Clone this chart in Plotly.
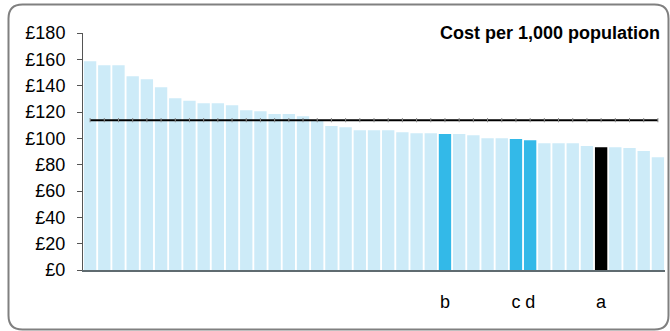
"""Cost per 1,000 population bar chart."""

import plotly.graph_objects as go

VALUES = [
    158.6, 155.5, 155.5, 147.2, 144.9, 138.8, 130.5, 128.5, 126.7, 126.7,
    125.2, 121.4, 120.6, 118.4, 118.4, 116.8, 113.6, 109.3, 108.5, 106.2,
    106.2, 106.2, 104.7, 103.9, 103.9, 103.2, 103.2, 102.4, 100.1, 100.1,
    99.4, 98.6, 96.3, 96.3, 96.3, 94.1, 93.3, 93.3, 92.6, 90.3, 85.7,
]
LABELS = [""] * 25 + ["b", "", "", "", "", "c", "d", "", "", "", "", "a", "", "", "", ""]
AVERAGE = 113.8
Y_TICKS = [0, 20, 40, 60, 80, 100, 120, 140, 160, 180]

LIGHT = "#cdebf8"
BLUE = "#33b9e8"
FONT = "Liberation Sans, Arial, sans-serif"

W, H = 670, 331
L, R, T, B = 83, 5, 33, 61
PW, PH = W - L - R, H - T - B


def px(x):
    return (x - L) / PW


def py(y):
    return (H - B - y) / PH


def rounded_rect(x0, y0, x1, y1, r):
    pts = [
        f"M {px(x0 + r)},{py(y0)}",
        f"L {px(x1 - r)},{py(y0)}",
        f"Q {px(x1)},{py(y0)} {px(x1)},{py(y0 + r)}",
        f"L {px(x1)},{py(y1 - r)}",
        f"Q {px(x1)},{py(y1)} {px(x1 - r)},{py(y1)}",
        f"L {px(x0 + r)},{py(y1)}",
        f"Q {px(x0)},{py(y1)} {px(x0)},{py(y1 - r)}",
        f"L {px(x0)},{py(y0 + r)}",
        f"Q {px(x0)},{py(y0)} {px(x0 + r)},{py(y0)} Z",
    ]
    return " ".join(pts)


xs = list(range(len(VALUES)))
colors = []
for lab in LABELS:
    if lab == "a":
        colors.append("#000000")
    elif lab:
        colors.append(BLUE)
    else:
        colors.append(LIGHT)

fig = go.Figure()
fig.add_trace(
    go.Bar(
        x=xs,
        y=VALUES,
        marker=dict(color=colors, line=dict(width=0)),
        showlegend=False,
    )
)
fig.add_trace(
    go.Scatter(
        x=xs,
        y=[AVERAGE] * len(xs),
        mode="lines+markers",
        line=dict(color="#000000", width=2),
        marker=dict(symbol="line-ns", size=3, line=dict(width=1, color="#888888")),
        showlegend=False,
    )
)

tick_idx = [i for i, lab in enumerate(LABELS) if lab]
fig.update_layout(
    width=W,
    height=H,
    margin=dict(l=L, r=R, t=T, b=B),
    paper_bgcolor="white",
    plot_bgcolor="white",
    bargap=0.13,
    font=dict(family=FONT, size=18, color="#000000"),
    xaxis=dict(
        range=[-0.5, len(xs) - 0.5],
        tickmode="array",
        tickvals=tick_idx,
        ticktext=[LABELS[i] for i in tick_idx],
        ticks="",
        ticklabelstandoff=14,
        showline=True,
        linecolor="#5f6b70",
        linewidth=2,
        showgrid=False,
        zeroline=False,
    ),
    yaxis=dict(
        range=[0, 180],
        tickmode="array",
        tickvals=Y_TICKS,
        ticktext=[f"£{v}" for v in Y_TICKS],
        ticks="outside",
        ticklen=5,
        tickcolor="#555555",
        ticklabelstandoff=8,
        showline=True,
        linecolor="#555555",
        linewidth=1,
        showgrid=False,
        zeroline=False,
    ),
    shapes=[
        dict(
            type="path",
            xref="paper",
            yref="paper",
            path=rounded_rect(8.5, 4.5, 668.5, 329.5, 14),
            line=dict(color="#808080", width=2),
            layer="above",
        )
    ],
    annotations=[
        dict(
            text="<b>Cost per 1,000 population</b>",
            xref="paper",
            yref="paper",
            x=px(662),
            y=py(33),
            xanchor="right",
            yanchor="middle",
            showarrow=False,
            font=dict(family=FONT, size=18, color="#000000"),
        )
    ],
)

fig.write_html(
    "out.html",
    config={"displayModeBar": False},
    post_script="document.body.style.margin='0';",
)
